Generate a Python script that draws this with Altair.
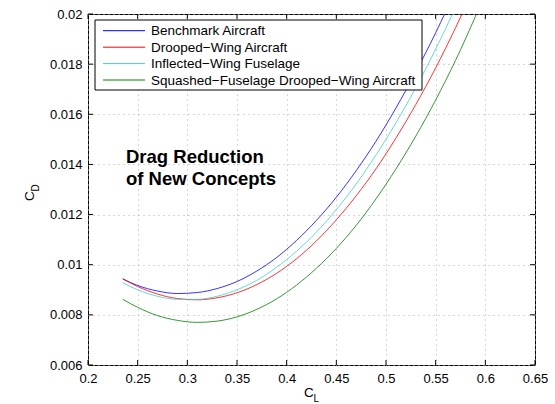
import altair as alt
import pandas as pd

# ---- data ----
series_names = [
    "Benchmark Aircraft",
    "Drooped−Wing Aircraft",
    "Inflected−Wing Fuselage",
    "Squashed−Fuselage Drooped−Wing Aircraft",
]
series_colors = ["#0000ff", "#ff0000", "#40d0d0", "#008000"]

cl_bench = [0.235, 0.25, 0.27, 0.29, 0.31, 0.33, 0.35, 0.37, 0.39, 0.41, 0.43, 0.45, 0.47, 0.49, 0.51, 0.53, 0.55, 0.57]
cd_bench = [0.00943, 0.00917, 0.00895, 0.00885, 0.00889, 0.00905, 0.00933, 0.00975, 0.01029, 0.01097, 0.01177, 0.01269, 0.01375, 0.01493, 0.01625, 0.01769, 0.01925, 0.02095]

cl_drooped = [0.235, 0.25, 0.27, 0.29, 0.31, 0.33, 0.35, 0.37, 0.39, 0.41, 0.43, 0.45, 0.47, 0.49, 0.51, 0.53, 0.55, 0.57, 0.58]
cd_drooped = [0.00944, 0.00913, 0.00883, 0.00865, 0.00860, 0.00868, 0.00888, 0.00921, 0.00966, 0.01024, 0.01095, 0.01179, 0.01275, 0.01383, 0.01505, 0.01639, 0.01785, 0.01945, 0.02029]

cl_inflected = [0.235, 0.25, 0.27, 0.29, 0.31, 0.33, 0.35, 0.37, 0.39, 0.41, 0.43, 0.45, 0.47, 0.49, 0.51, 0.53, 0.55, 0.57]
cd_inflected = [0.00928, 0.00900, 0.00874, 0.00862, 0.00862, 0.00874, 0.00900, 0.00938, 0.00990, 0.01054, 0.01130, 0.01220, 0.01322, 0.01438, 0.01566, 0.01706, 0.01860, 0.02026]

cl_squashed = [0.235, 0.25, 0.27, 0.29, 0.31, 0.33, 0.35, 0.37, 0.39, 0.41, 0.43, 0.45, 0.47, 0.49, 0.51, 0.53, 0.55, 0.57, 0.59, 0.60]
cd_squashed = [0.00862, 0.00830, 0.00797, 0.00778, 0.00770, 0.00775, 0.00792, 0.00822, 0.00864, 0.00919, 0.00986, 0.01065, 0.01157, 0.01263, 0.01382, 0.01513, 0.01657, 0.01815, 0.01990, 0.02082]

x_ticks = [0.2, 0.25, 0.3, 0.35, 0.4, 0.45, 0.5, 0.55, 0.6, 0.65]
y_ticks = [0.006, 0.008, 0.01, 0.012, 0.014, 0.016, 0.018, 0.02]

title_lines = ["Drag Reduction", "of New Concepts"]

# ---- build table ----
rows = []
for name, cls, cds in zip(series_names,
                          [cl_bench, cl_drooped, cl_inflected, cl_squashed],
                          [cd_bench, cd_drooped, cd_inflected, cd_squashed]):
    for c_l, c_d in zip(cls, cds):
        rows.append({"series": name, "CL": c_l, "CD": c_d})
df = pd.DataFrame(rows)

W, H = 447, 351
FONT = "Liberation Sans"

xscale = alt.Scale(domain=[0.2, 0.65], nice=False, zero=False)
yscale = alt.Scale(domain=[0.006, 0.02], nice=False, zero=False)

xaxis = alt.Axis(values=x_ticks, format="~g", title=None, grid=True,
                 gridDash=[1, 4], gridColor="#b0b0b0", tickSize=0,
                 labelPadding=7, labelFontSize=13, labelFont=FONT,
                 labelColor="#000000", domain=False, labelFlush=False)
yaxis = alt.Axis(values=y_ticks, format="~g", title=None, grid=True,
                 gridDash=[1, 4], gridColor="#b0b0b0", tickSize=0,
                 labelPadding=6, labelFontSize=13, labelFont=FONT,
                 labelColor="#000000", domain=False, labelFlush=False)

lines = alt.Chart(df).mark_line(strokeWidth=1, clip=True, interpolate="monotone", opacity=0.8).encode(
    x=alt.X("CL:Q", scale=xscale, axis=xaxis),
    y=alt.Y("CD:Q", scale=yscale, axis=yaxis),
    color=alt.Color("series:N", scale=alt.Scale(domain=series_names, range=series_colors), legend=None),
    detail="series:N",
)

xt = pd.DataFrame({"v": x_ticks})
yt = pd.DataFrame({"v": y_ticks})
tick_len = 5
xtick_b = alt.Chart(xt).mark_rule(color="black", strokeWidth=1).encode(
    x=alt.X("v:Q", scale=xscale, axis=xaxis), y=alt.value(H), y2=alt.value(H - tick_len))
xtick_t = alt.Chart(xt).mark_rule(color="black", strokeWidth=1).encode(
    x=alt.X("v:Q", scale=xscale, axis=xaxis), y=alt.value(0), y2=alt.value(tick_len))
ytick_l = alt.Chart(yt).mark_rule(color="black", strokeWidth=1).encode(
    y=alt.Y("v:Q", scale=yscale, axis=yaxis), x=alt.value(0), x2=alt.value(tick_len))
ytick_r = alt.Chart(yt).mark_rule(color="black", strokeWidth=1).encode(
    y=alt.Y("v:Q", scale=yscale, axis=yaxis), x=alt.value(W), x2=alt.value(W - tick_len))

one = pd.DataFrame({"a": [0]})

# legend box
leg_box = alt.Chart(one).mark_rect(fill="white", stroke="black", strokeWidth=1).encode(
    x=alt.value(7), x2=alt.value(334), y=alt.value(6), y2=alt.value(76))
legend_layers = [leg_box]
row_y = [16.7, 33.2, 49.6, 66.0]
for name, col, ry in zip(series_names, series_colors, row_y):
    legend_layers.append(
        alt.Chart(one).mark_rule(color=col, strokeWidth=1).encode(
            x=alt.value(15), x2=alt.value(57), y=alt.value(ry)))
    legend_layers.append(
        alt.Chart(one).mark_text(text=name, align="left", baseline="middle",
                                 font=FONT, fontSize=13.5, color="#000000").encode(
            x=alt.value(63), y=alt.value(ry + 0.5)))

# annotation
ann = []
for i, t in enumerate(title_lines):
    ann.append(alt.Chart(one).mark_text(text=t, align="left", baseline="alphabetic",
                                        font=FONT, fontSize=18.5, fontWeight="bold",
                                        color="#000000").encode(
        x=alt.value(38), y=alt.value(149 + 22 * i)))

# axis titles with subscripts
xl_c = alt.Chart(one).mark_text(text="C", align="left", baseline="alphabetic",
                                font=FONT, fontSize=13.5, color="#000000").encode(
    x=alt.value(216), y=alt.value(383))
xl_s = alt.Chart(one).mark_text(text="L", align="left", baseline="alphabetic",
                                font=FONT, fontSize=10, color="#000000").encode(
    x=alt.value(225.5), y=alt.value(388))
yl_c = alt.Chart(one).mark_text(text="C", align="left", baseline="alphabetic", angle=270,
                                font=FONT, fontSize=13.5, color="#000000").encode(
    x=alt.value(-54), y=alt.value(187))
yl_s = alt.Chart(one).mark_text(text="D", align="left", baseline="alphabetic", angle=270,
                                font=FONT, fontSize=10, color="#000000").encode(
    x=alt.value(-49), y=alt.value(177.5))

chart = alt.layer(
    lines, xtick_b, xtick_t, ytick_l, ytick_r, *legend_layers, *ann, xl_c, xl_s, yl_c, yl_s
).properties(
    width=W, height=H,
    autosize=alt.AutoSizeParams(type="none"),
    padding={"left": 88, "top": 14, "right": 20, "bottom": 39},
    background="white",
).configure_view(stroke="black", strokeWidth=1)

chart.save("out.html", embed_options={"renderer": "svg", "actions": False})
